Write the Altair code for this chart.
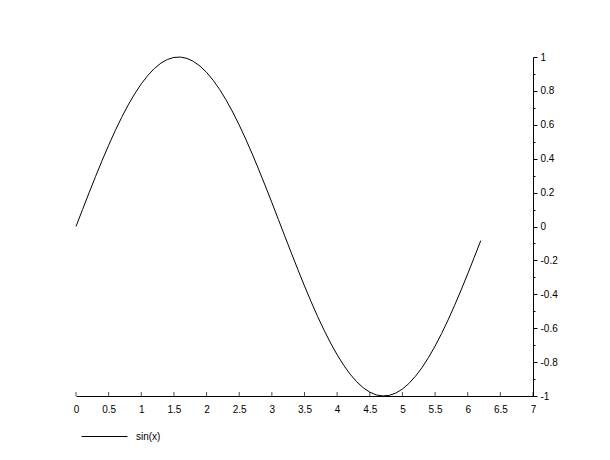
import altair as alt
import pandas as pd

xs = [0.0, 0.1, 0.2, 0.3, 0.4, 0.5, 0.6, 0.7, 0.8, 0.9,
      1.0, 1.1, 1.2, 1.3, 1.4, 1.5, 1.6, 1.7, 1.8, 1.9,
      2.0, 2.1, 2.2, 2.3, 2.4, 2.5, 2.6, 2.7, 2.8, 2.9,
      3.0, 3.1, 3.2, 3.3, 3.4, 3.5, 3.6, 3.7, 3.8, 3.9,
      4.0, 4.1, 4.2, 4.3, 4.4, 4.5, 4.6, 4.7, 4.8, 4.9,
      5.0, 5.1, 5.2, 5.3, 5.4, 5.5, 5.6, 5.7, 5.8, 5.9,
      6.0, 6.1, 6.2]
ys = [0.0, 0.0998, 0.1987, 0.2955, 0.3894, 0.4794, 0.5646, 0.6442, 0.7174, 0.7833,
      0.8415, 0.8912, 0.9320, 0.9636, 0.9854, 0.9975, 0.9996, 0.9917, 0.9738, 0.9463,
      0.9093, 0.8632, 0.8085, 0.7457, 0.6755, 0.5985, 0.5155, 0.4274, 0.3350, 0.2392,
      0.1411, 0.0416, -0.0584, -0.1577, -0.2555, -0.3508, -0.4425, -0.5298, -0.6119, -0.6878,
      -0.7568, -0.8183, -0.8716, -0.9162, -0.9516, -0.9775, -0.9937, -0.9999, -0.9962, -0.9825,
      -0.9589, -0.9258, -0.8835, -0.8323, -0.7728, -0.7055, -0.6313, -0.5507, -0.4646, -0.3739,
      -0.2794, -0.1822, -0.0831]
series_name = "sin(x)"

x_ticks = [0, 0.5, 1, 1.5, 2, 2.5, 3, 3.5, 4, 4.5, 5, 5.5, 6, 6.5, 7]
y_ticks = [-1, -0.9, -0.8, -0.7, -0.6, -0.5, -0.4, -0.3, -0.2, -0.1,
           0, 0.1, 0.2, 0.3, 0.4, 0.5, 0.6, 0.7, 0.8, 0.9, 1]

df = pd.DataFrame({"x": xs, "y": ys, "series": [series_name] * len(xs)})
ticks_df = pd.DataFrame({"x": x_ticks, "y": [-1] * len(x_ticks)})

FONT = "Liberation Sans"

x_scale = alt.Scale(domain=[0, 7], nice=False, zero=False)
y_scale = alt.Scale(domain=[-1, 1], nice=False, zero=False)

x_axis = alt.Axis(orient="bottom", values=x_ticks, ticks=False,
                  labelExpr="toString(datum.value)", labelPadding=8,
                  labelFont=FONT, labelFontSize=10, labelColor="black",
                  labelOverlap=False, domainColor="black", grid=False,
                  labelFlush=False)
y_axis = alt.Axis(orient="right", values=y_ticks,
                  labelExpr="abs(round(datum.value*10)) % 2 == 0 ? toString(datum.value) : ''",
                  tickSize={"condition": {"test": "abs(round(datum.value*10)) % 2 == 0", "value": 4}, "value": 2},
                  labelPadding=3, labelBaseline="middle", labelOverlap=False,
                  labelFont=FONT, labelFontSize=10, labelColor="black",
                  tickColor="black", domainColor="black", grid=False,
                  labelFlush=False)

line = alt.Chart(df).mark_line(strokeWidth=1).encode(
    x=alt.X("x:Q", scale=x_scale, title=None, axis=x_axis),
    y=alt.Y("y:Q", scale=y_scale, title=None, axis=y_axis),
    color=alt.Color("series:N", scale=alt.Scale(range=["black"]), title=None,
                    legend=alt.Legend(orient="none", legendX=5, legendY=356,
                                      symbolType="stroke", symbolSize=2116,
                                      symbolStrokeWidth=1, symbolStrokeColor="black",
                                      labelFont=FONT, labelFontSize=10, labelColor="black",
                                      labelOffset=8, padding=0)),
)

xticks = alt.Chart(ticks_df).mark_tick(orient="vertical", size=4, yOffset=-2,
                                       color="black", thickness=1).encode(
    x=alt.X("x:Q", scale=x_scale, title=None, axis=x_axis),
    y=alt.Y("y:Q", scale=y_scale, title=None, axis=y_axis),
)

chart = alt.layer(line, xticks).properties(
    width=457, height=339,
    background="white",
    autosize=alt.AutoSizeParams(type="none"),
    padding={"left": 68, "top": 49, "right": 60, "bottom": 60},
).configure_view(strokeWidth=0, stroke="transparent")

chart.save("out.html", embed_options={"renderer": "svg", "actions": False})
